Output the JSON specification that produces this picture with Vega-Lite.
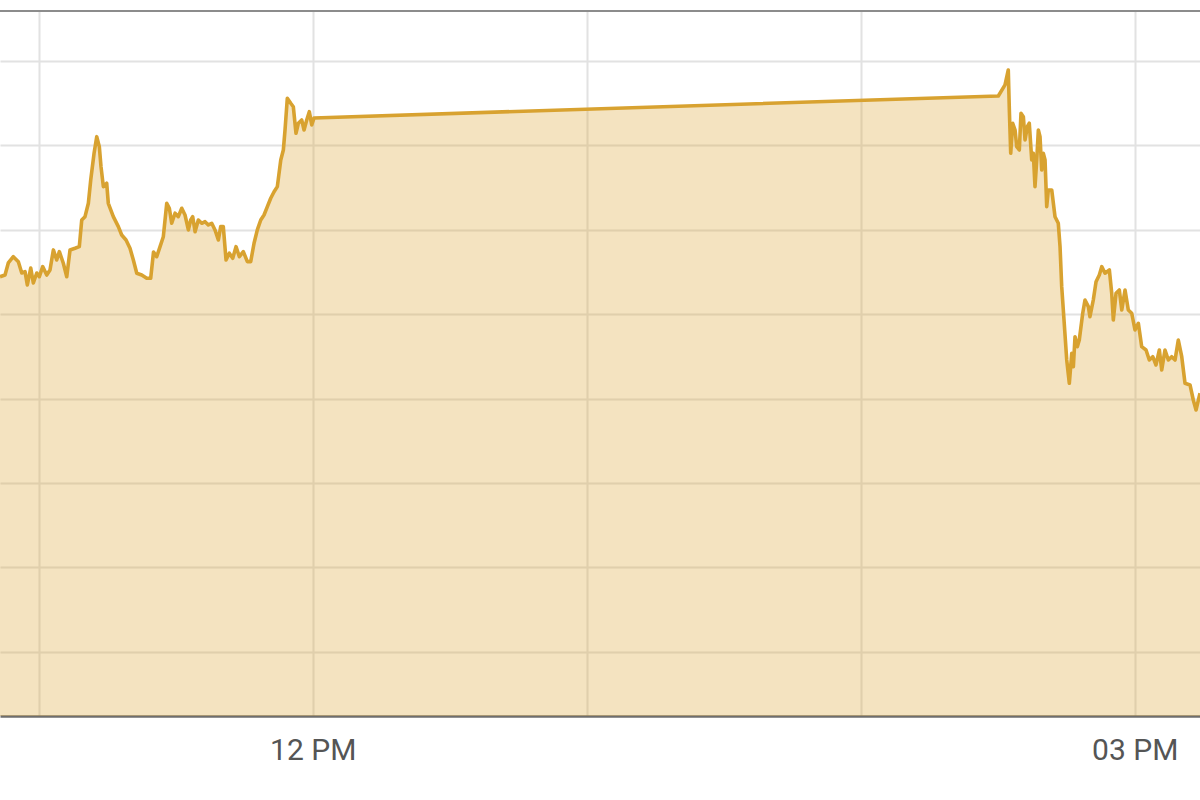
{
  "$schema": "https://vega.github.io/schema/vega-lite/v6.json",
  "description": "Intraday price, morning and afternoon sessions",
  "width": 1200,
  "height": 705,
  "autosize": {"type": "none"},
  "padding": {"left": 0, "right": 0, "top": 11, "bottom": 84},
  "data": {
    "format": {"parse": {"t": "utc:'%H:%M:%S'"}},
    "values": [
      {"t": "10:51:31", "v": 54.44}, {"t": "10:52:37", "v": 54.64}, {"t": "10:53:20", "v": 56.07},
      {"t": "10:54:26", "v": 56.81}, {"t": "10:55:32", "v": 56.22}, {"t": "10:56:17", "v": 54.88},
      {"t": "10:57:00", "v": 55.04}, {"t": "10:57:30", "v": 53.46}, {"t": "10:58:15", "v": 55.47},
      {"t": "10:58:49", "v": 53.70}, {"t": "10:59:34", "v": 54.88}, {"t": "11:00:08", "v": 54.44},
      {"t": "11:00:52", "v": 55.63}, {"t": "11:01:45", "v": 54.64}, {"t": "11:02:28", "v": 55.24},
      {"t": "11:03:12", "v": 57.61}, {"t": "11:03:56", "v": 56.42}, {"t": "11:04:31", "v": 57.41},
      {"t": "11:05:23", "v": 56.03}, {"t": "11:06:08", "v": 54.44}, {"t": "11:06:51", "v": 57.61},
      {"t": "11:07:57", "v": 57.81}, {"t": "11:08:53", "v": 58.00}, {"t": "11:09:25", "v": 61.16},
      {"t": "11:10:08", "v": 61.55}, {"t": "11:10:52", "v": 63.14}, {"t": "11:11:23", "v": 65.90},
      {"t": "11:12:07", "v": 69.06}, {"t": "11:12:42", "v": 71.03}, {"t": "11:13:16", "v": 69.85},
      {"t": "11:13:38", "v": 67.48}, {"t": "11:14:09", "v": 65.11}, {"t": "11:14:53", "v": 65.51},
      {"t": "11:15:14", "v": 63.14}, {"t": "11:16:20", "v": 61.55}, {"t": "11:17:26", "v": 60.37},
      {"t": "11:18:10", "v": 59.38}, {"t": "11:19:07", "v": 58.79}, {"t": "11:19:59", "v": 57.81},
      {"t": "11:20:43", "v": 56.42}, {"t": "11:21:28", "v": 54.85}, {"t": "11:22:33", "v": 54.64},
      {"t": "11:23:39", "v": 54.25}, {"t": "11:24:31", "v": 54.25}, {"t": "11:25:08", "v": 57.37},
      {"t": "11:25:50", "v": 56.81}, {"t": "11:26:34", "v": 58.00}, {"t": "11:27:17", "v": 59.18},
      {"t": "11:28:02", "v": 63.14}, {"t": "11:28:36", "v": 62.55}, {"t": "11:29:07", "v": 60.77},
      {"t": "11:29:51", "v": 61.96}, {"t": "11:30:34", "v": 61.55}, {"t": "11:31:19", "v": 62.55},
      {"t": "11:32:02", "v": 61.75}, {"t": "11:32:46", "v": 59.98}, {"t": "11:33:17", "v": 61.16},
      {"t": "11:33:43", "v": 61.55}, {"t": "11:34:14", "v": 59.77}, {"t": "11:34:57", "v": 61.16},
      {"t": "11:35:42", "v": 60.77}, {"t": "11:36:25", "v": 60.96}, {"t": "11:37:08", "v": 60.57},
      {"t": "11:37:53", "v": 60.77}, {"t": "11:38:36", "v": 59.98}, {"t": "11:39:20", "v": 58.79},
      {"t": "11:39:51", "v": 60.37}, {"t": "11:40:25", "v": 60.37}, {"t": "11:41:01", "v": 56.42},
      {"t": "11:41:44", "v": 57.22}, {"t": "11:42:29", "v": 56.62}, {"t": "11:43:12", "v": 58.00},
      {"t": "11:43:56", "v": 56.81}, {"t": "11:44:48", "v": 57.41}, {"t": "11:45:41", "v": 56.22},
      {"t": "11:46:25", "v": 56.22}, {"t": "11:47:09", "v": 58.40}, {"t": "11:47:52", "v": 59.98},
      {"t": "11:48:37", "v": 61.16}, {"t": "11:49:20", "v": 61.75}, {"t": "11:50:04", "v": 62.74},
      {"t": "11:50:48", "v": 63.73}, {"t": "11:51:32", "v": 64.51}, {"t": "11:52:15", "v": 65.11},
      {"t": "11:53:00", "v": 68.27}, {"t": "11:53:34", "v": 69.45}, {"t": "11:53:56", "v": 71.82},
      {"t": "11:54:26", "v": 75.58}, {"t": "11:55:11", "v": 74.99}, {"t": "11:55:45", "v": 74.58},
      {"t": "11:56:20", "v": 71.43}, {"t": "11:56:51", "v": 72.62}, {"t": "11:57:35", "v": 73.01},
      {"t": "11:58:06", "v": 71.82}, {"t": "11:58:41", "v": 73.01}, {"t": "11:59:15", "v": 73.99},
      {"t": "11:59:47", "v": 72.42}, {"t": "12:00:17", "v": 73.25},
      {"t": "14:30:08", "v": 75.85}, {"t": "14:31:36", "v": 77.16}, {"t": "14:32:19", "v": 78.93},
      {"t": "14:32:33", "v": 74.19}, {"t": "14:32:51", "v": 69.06}, {"t": "14:33:17", "v": 72.62},
      {"t": "14:33:48", "v": 71.82}, {"t": "14:34:10", "v": 69.85}, {"t": "14:34:44", "v": 69.45},
      {"t": "14:35:06", "v": 73.80}, {"t": "14:35:37", "v": 73.40}, {"t": "14:35:59", "v": 70.64},
      {"t": "14:36:29", "v": 72.22}, {"t": "14:36:55", "v": 72.62}, {"t": "14:37:27", "v": 68.27},
      {"t": "14:37:48", "v": 69.06}, {"t": "14:38:10", "v": 65.11}, {"t": "14:38:33", "v": 68.27},
      {"t": "14:38:54", "v": 71.82}, {"t": "14:39:16", "v": 71.03}, {"t": "14:39:38", "v": 67.08},
      {"t": "14:39:59", "v": 69.06}, {"t": "14:40:22", "v": 68.27}, {"t": "14:40:44", "v": 62.74},
      {"t": "14:41:05", "v": 64.72}, {"t": "14:41:50", "v": 64.72}, {"t": "14:42:33", "v": 61.55},
      {"t": "14:43:16", "v": 60.77}, {"t": "14:43:39", "v": 58.00}, {"t": "14:44:01", "v": 53.26},
      {"t": "14:44:31", "v": 49.31}, {"t": "14:45:07", "v": 44.57}, {"t": "14:45:41", "v": 41.81},
      {"t": "14:46:13", "v": 45.37}, {"t": "14:46:34", "v": 43.78}, {"t": "14:46:56", "v": 47.33},
      {"t": "14:47:26", "v": 46.15}, {"t": "14:47:52", "v": 46.94}, {"t": "14:48:37", "v": 50.11},
      {"t": "14:49:07", "v": 51.68}, {"t": "14:49:51", "v": 50.89}, {"t": "14:50:12", "v": 49.70},
      {"t": "14:50:56", "v": 51.68}, {"t": "14:51:32", "v": 53.85}, {"t": "14:52:15", "v": 54.64},
      {"t": "14:52:47", "v": 55.63}, {"t": "14:53:30", "v": 54.85}, {"t": "14:54:27", "v": 55.24},
      {"t": "14:54:58", "v": 52.48}, {"t": "14:55:19", "v": 49.31}, {"t": "14:55:55", "v": 52.48},
      {"t": "14:56:38", "v": 52.87}, {"t": "14:57:10", "v": 50.50}, {"t": "14:57:53", "v": 52.87},
      {"t": "14:58:36", "v": 50.50}, {"t": "14:59:21", "v": 50.11}, {"t": "15:00:04", "v": 48.13},
      {"t": "15:00:48", "v": 48.92}, {"t": "15:01:32", "v": 46.15}, {"t": "15:02:29", "v": 45.76},
      {"t": "15:03:12", "v": 44.57}, {"t": "15:03:57", "v": 44.96}, {"t": "15:04:40", "v": 43.98},
      {"t": "15:05:24", "v": 45.76}, {"t": "15:05:55", "v": 43.39}, {"t": "15:06:38", "v": 45.76},
      {"t": "15:07:22", "v": 44.57}, {"t": "15:08:06", "v": 44.96}, {"t": "15:08:50", "v": 44.57},
      {"t": "15:09:33", "v": 46.94}, {"t": "15:10:18", "v": 44.96}, {"t": "15:11:01", "v": 41.81},
      {"t": "15:12:07", "v": 41.61}, {"t": "15:12:50", "v": 39.83}, {"t": "15:13:26", "v": 38.65},
      {"t": "15:14:18", "v": 40.63}
    ]
  },
  "encoding": {
    "x": {
      "field": "t",
      "type": "temporal",
      "title": null,
      "scale": {"type": "utc", "domain": [-2208949709000, -2208933942000]},
      "axis": {
        "values": [-2208949200000, -2208945600000, -2208942000000, -2208938400000, -2208934800000],
        "format": "%I %p",
        "formatType": "utc",
        "labelExpr": "(datum.label == '12 PM' || datum.label == '03 PM') ? datum.label : ''",
        "labelOverlap": false,
        "labelFlush": false,
        "labelFont": "Roboto",
        "labelFontSize": 30,
        "labelColor": "#555555",
        "labelPadding": 19,
        "ticks": false,
        "domainColor": "#6e6e6e",
        "domainWidth": 2.5,
        "grid": true,
        "gridColor": "#e2e2e2",
        "gridWidth": 2
      }
    },
    "y": {
      "field": "v",
      "type": "quantitative",
      "title": null,
      "scale": {"domain": [2.39, 85.92], "zero": false, "nice": false},
      "axis": {
        "values": [10, 20, 30, 40, 50, 60, 70, 80],
        "labels": false,
        "ticks": false,
        "domain": false,
        "grid": true,
        "gridColor": "#e2e2e2",
        "gridWidth": 2
      }
    }
  },
  "layer": [
    {
      "mark": {"type": "area", "color": "#d9a22f", "fillOpacity": 0.3, "clip": true}
    },
    {
      "mark": {"type": "line", "color": "#d8a230", "strokeWidth": 3.6, "strokeJoin": "round", "clip": true}
    },
    {
      "mark": {"type": "rule", "color": "#8c8c8c", "strokeWidth": 2},
      "encoding": {"y": {"datum": 85.92}, "x": null}
    }
  ],
  "config": {
    "background": "white",
    "view": {"stroke": null}
  }
}
